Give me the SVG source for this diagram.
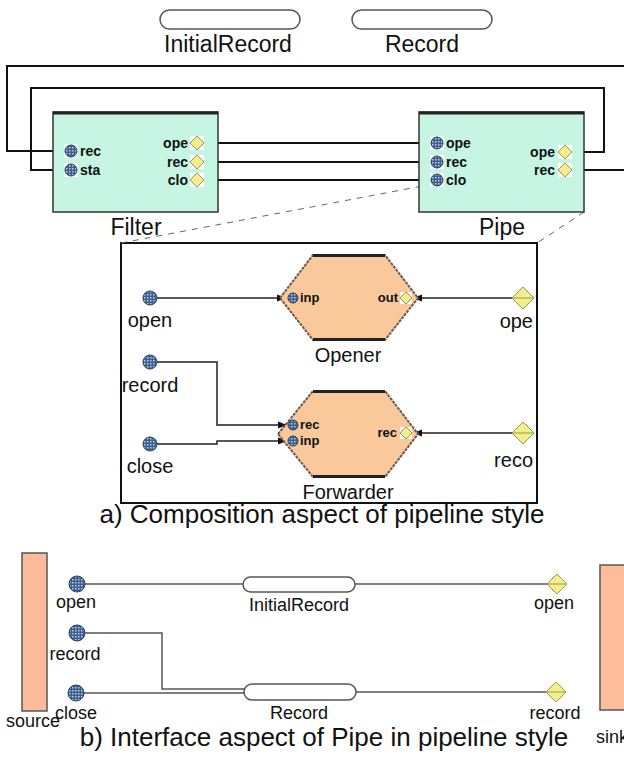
<svg xmlns="http://www.w3.org/2000/svg" width="624" height="772" viewBox="0 0 624 772">
<style>
text{font-family:"Liberation Sans",Arial,sans-serif;fill:#111}
.lbl{font-size:23px}
.in{font-size:20px}
.pb{font-size:18px}
.cap{font-size:26px;text-anchor:middle}
.pl{font-size:14px;font-weight:bold}
.hl{font-size:13px;font-weight:bold}
.mid{text-anchor:middle}
.end{text-anchor:end}
.capsule{fill:#fff;stroke:#555;stroke-width:1.5}
.box{fill:#c6f6e3;stroke:#333;stroke-width:1.5}
.hex{fill:#f9c89b;stroke:#6a5a4a;stroke-width:2;stroke-dasharray:3 1}
.edge{fill:none;stroke:#222;stroke-width:3}
.w{fill:none;stroke:#111;stroke-width:2}
.c1{fill:none;stroke:#222;stroke-width:1.5}
.c2{fill:none;stroke:#555;stroke-width:1.5}
.dash{fill:none;stroke:#666;stroke-width:1;stroke-dasharray:6 6}
.rp{fill:url(#dots);stroke:#2b3f5a;stroke-width:1}
.dp{fill:#f2ee8c;stroke:#9a9650;stroke-width:1}
.bg{fill:#fff}
.ext{fill:#fdbd9d;stroke:#555;stroke-width:1.5}
</style>
<defs>
<pattern id="dots" width="3" height="3" patternUnits="userSpaceOnUse">
<rect width="3" height="3" fill="#3e5f8c"/>
<rect width="1.5" height="1.5" fill="#b2cbe8"/>
</pattern>
<marker id="arr" viewBox="0 0 10 10" refX="10" refY="5" markerWidth="6" markerHeight="6" orient="auto">
<path d="M0,1 L10,5 L0,9 z" fill="#111"/>
</marker>
</defs>

<!-- top data types -->
<g id="type-initialrecord">
<rect class="capsule" x="160" y="10" width="140" height="19" rx="9.5"/>
<text class="lbl mid" x="228" y="52">InitialRecord</text>
</g>
<g id="type-record">
<rect class="capsule" x="352" y="10" width="140" height="19" rx="9.5"/>
<text class="lbl mid" x="422" y="52">Record</text>
</g>

<!-- inner composition frame -->
<g id="composition">
<rect x="121" y="243" width="416" height="260" fill="#fff" stroke="#111" stroke-width="2"/>
</g>

<!-- connectors -->
<g id="connectors">
<path class="w" d="M66,151 H7 V66 H624"/>
<path class="w" d="M66,170 H31 V88 H604 V152 H571"/>
<path class="w" d="M571,170 H624"/>
<path class="w" d="M203,143 H432"/>
<path class="w" d="M203,162 H432"/>
<path class="w" d="M203,180 H432"/>
<path class="dash" d="M121,243 L433,184"/>
<path class="dash" d="M584,212 L537,243"/>
<path class="c1" d="M157,298 H286" marker-end="url(#arr)"/>
<path class="c1" d="M512,298 H413" marker-end="url(#arr)"/>
<path class="c1" d="M157,362 H217 V425 H287" marker-end="url(#arr)"/>
<path class="c1" d="M157,444 H217 V441 H287" marker-end="url(#arr)"/>
<path class="c1" d="M512,433 H413" marker-end="url(#arr)"/>
<path class="c2" d="M85,584 H243"/>
<path class="c2" d="M355,584 H547"/>
<path class="c2" d="M85,633 H162 V689 H246"/>
<path class="c2" d="M84,693 H246"/>
<path class="c2" d="M356,692 H546"/>
</g>

<!-- Filter -->
<g id="filter">
<rect class="box" x="53" y="112" width="165" height="100"/>
<line class="edge" x1="53" y1="113" x2="218" y2="113"/>
<rect class="bg" x="64" y="144" width="14" height="14"/>
<circle class="rp" cx="71" cy="151" r="6"/>
<rect class="bg" x="64" y="163" width="14" height="14"/>
<circle class="rp" cx="71" cy="170" r="6"/>
<text class="pl" x="80" y="156">rec</text>
<text class="pl" x="80" y="175">sta</text>
<rect class="bg" x="190" y="136" width="14" height="14"/>
<polygon class="dp" points="197,136 204,143 197,150 190,143"/>
<rect class="bg" x="190" y="155" width="14" height="14"/>
<polygon class="dp" points="197,155 204,162 197,169 190,162"/>
<rect class="bg" x="190" y="173" width="14" height="14"/>
<polygon class="dp" points="197,173 204,180 197,187 190,180"/>
<text class="pl end" x="188" y="148">ope</text>
<text class="pl end" x="188" y="167">rec</text>
<text class="pl end" x="188" y="185">clo</text>
<text class="lbl mid" x="136" y="235">Filter</text>
</g>

<!-- Pipe -->
<g id="pipe">
<rect class="box" x="419" y="112" width="165" height="100"/>
<line class="edge" x1="419" y1="113" x2="584" y2="113"/>
<rect class="bg" x="430" y="136" width="14" height="14"/>
<circle class="rp" cx="437" cy="143" r="6"/>
<rect class="bg" x="430" y="155" width="14" height="14"/>
<circle class="rp" cx="437" cy="162" r="6"/>
<rect class="bg" x="430" y="173" width="14" height="14"/>
<circle class="rp" cx="437" cy="180" r="6"/>
<text class="pl" x="446" y="148">ope</text>
<text class="pl" x="446" y="167">rec</text>
<text class="pl" x="446" y="185">clo</text>
<rect class="bg" x="558" y="145" width="14" height="14"/>
<polygon class="dp" points="565,145 572,152 565,159 558,152"/>
<rect class="bg" x="558" y="163" width="14" height="14"/>
<polygon class="dp" points="565,163 572,170 565,177 558,170"/>
<text class="pl end" x="555" y="157">ope</text>
<text class="pl end" x="555" y="175">rec</text>
<text class="lbl mid" x="502" y="235">Pipe</text>
</g>

<g id="port-open">
<circle class="rp" cx="150" cy="298" r="7"/>
<text class="in mid" x="150" y="327">open</text>
</g>
<g id="port-record">
<circle class="rp" cx="150" cy="362" r="7"/>
<text class="in mid" x="150" y="392">record</text>
</g>
<g id="port-close">
<circle class="rp" cx="150" cy="444" r="7"/>
<text class="in mid" x="150" y="473">close</text>
</g>
<g id="port-ope">
<polygon class="dp" points="523,287 534,298 523,309 512,298"/>
<line x1="512" y1="298" x2="534" y2="298" stroke="#9a9650" stroke-width="1"/>
<text class="in end" x="533" y="328">ope</text>
</g>
<g id="port-reco">
<polygon class="dp" points="523,422 534,433 523,444 512,433"/>
<line x1="512" y1="433" x2="534" y2="433" stroke="#9a9650" stroke-width="1"/>
<text class="in end" x="533" y="467">reco</text>
</g>

<g id="opener">
<polygon class="hex" points="280,298 313,255 385,255 418,298 385,340 313,340"/>
<line class="edge" x1="313" y1="255.5" x2="385" y2="255.5"/>
<line class="edge" x1="313" y1="339.5" x2="385" y2="339.5"/>
<circle class="rp" cx="293" cy="298" r="5"/>
<text class="hl" x="300" y="302">inp</text>
<rect class="bg" x="400" y="292" width="12" height="12"/>
<polygon class="dp" points="406,292 412,298 406,304 400,298"/>
<text class="hl end" x="398" y="302">out</text>
<text class="in mid" x="348" y="362">Opener</text>
</g>

<g id="forwarder">
<polygon class="hex" points="278,434 313,391 385,391 418,434 385,477 313,477"/>
<line class="edge" x1="313" y1="391.5" x2="385" y2="391.5"/>
<line class="edge" x1="313" y1="476.5" x2="385" y2="476.5"/>
<circle class="rp" cx="293" cy="425" r="5"/>
<circle class="rp" cx="293" cy="441" r="5"/>
<text class="hl" x="300" y="429">rec</text>
<text class="hl" x="300" y="445">inp</text>
<rect class="bg" x="400" y="427" width="12" height="12"/>
<polygon class="dp" points="406,427 412,433 406,439 400,433"/>
<text class="hl end" x="397" y="437">rec</text>
<text class="in mid" x="348" y="499">Forwarder</text>
</g>

<text class="cap" x="322" y="523">a) Composition aspect of pipeline style</text>

<!-- part b -->
<g id="source">
<rect class="ext" x="22" y="553" width="25" height="158"/>
<text class="pb end" x="60" y="727">source</text>
</g>
<g id="sink">
<rect class="ext" x="600" y="565" width="30" height="145"/>
<text class="pb" x="596" y="743">sink</text>
</g>
<g id="b-open">
<circle class="rp" cx="77" cy="584" r="8"/>
<text class="pb mid" x="76" y="608">open</text>
</g>
<g id="b-record">
<circle class="rp" cx="77" cy="633" r="8"/>
<text class="pb mid" x="75" y="660">record</text>
</g>
<g id="b-close">
<circle class="rp" cx="76" cy="693" r="8"/>
<text class="pb mid" x="76" y="719">close</text>
</g>
<g id="b-initialrecord">
<rect class="capsule" x="243" y="577" width="112" height="15" rx="7.5"/>
<text class="pb mid" x="299" y="611">InitialRecord</text>
</g>
<g id="b-recordtype">
<rect class="capsule" x="244" y="684" width="112" height="16" rx="8"/>
<text class="pb mid" x="299" y="719">Record</text>
</g>
<g id="b-open-out">
<polygon class="dp" points="557,574 567,584 557,594 547,584"/>
<line x1="547" y1="584" x2="567" y2="584" stroke="#9a9650" stroke-width="1"/>
<text class="pb mid" x="554" y="609">open</text>
</g>
<g id="b-record-out">
<polygon class="dp" points="556,682 566,692 556,702 546,692"/>
<line x1="546" y1="692" x2="566" y2="692" stroke="#9a9650" stroke-width="1"/>
<text class="pb mid" x="555" y="719">record</text>
</g>

<text class="cap" x="324" y="746">b) Interface aspect of Pipe in pipeline style</text>
</svg>
